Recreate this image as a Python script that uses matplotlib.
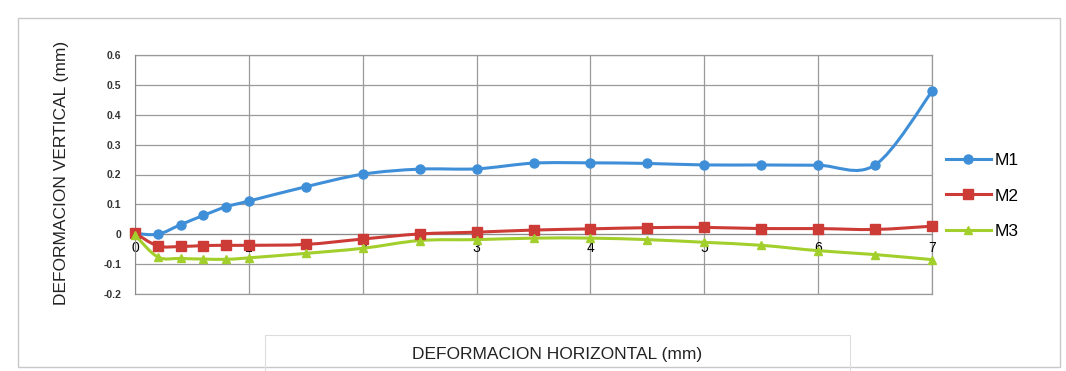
import matplotlib
matplotlib.use("Agg")
import matplotlib.pyplot as plt
import numpy as np
from matplotlib.path import Path
from matplotlib.patches import PathPatch, Rectangle
from matplotlib.lines import Line2D

x_vals = [0, 0.2, 0.4, 0.6, 0.8, 1.0, 1.5, 2.0, 2.5, 3.0, 3.5, 4.0, 4.5, 5.0, 5.5, 6.0, 6.5, 7.0]
m1 = [0.003, 0.0, 0.032, 0.063, 0.092, 0.111, 0.159, 0.201, 0.218, 0.219, 0.238, 0.239, 0.237, 0.232, 0.232, 0.231, 0.232, 0.478]
m2 = [0.004, -0.039, -0.041, -0.038, -0.037, -0.037, -0.034, -0.016, 0.001, 0.007, 0.014, 0.018, 0.022, 0.023, 0.019, 0.019, 0.016, 0.027]
m3 = [-0.003, -0.076, -0.081, -0.083, -0.084, -0.079, -0.064, -0.047, -0.021, -0.018, -0.013, -0.013, -0.018, -0.027, -0.037, -0.055, -0.068, -0.085]
series_names = ["M1", "M2", "M3"]
x_ticks = [0, 1, 2, 3, 4, 5, 6, 7]
y_ticks = [-0.2, -0.1, 0, 0.1, 0.2, 0.3, 0.4, 0.5, 0.6]
y_ticklabels = ["-0.2", "-0.1", "0", "0.1", "0.2", "0.3", "0.4", "0.5", "0.6"]

colors = ["#3f8fd8", "#cc3b36", "#a3cf2c"]
markers = ["o", "s", "^"]
msizes = [6.5, 6.5, 6]

plt.rcParams['font.family'] = ['Liberation Sans', 'DejaVu Sans']

fig = plt.figure(figsize=(10.66, 3.71), dpi=100)
ax = fig.add_axes([135/1066, 1-294/371, (932-135)/1066, (294-55)/371])


def smooth_path(xs, ys):
    xs = np.asarray(xs, float); ys = np.asarray(ys, float)
    pts = np.column_stack([xs, ys])
    n = len(pts)
    verts = [pts[0]]
    codes = [Path.MOVETO]
    for i in range(n - 1):
        p0 = pts[i - 1] if i > 0 else pts[i]
        p1 = pts[i]
        p2 = pts[i + 1]
        p3 = pts[i + 2] if i + 2 < n else pts[i + 1]
        c1 = p1 + (p2 - p0) / 6.0
        c2 = p2 - (p3 - p1) / 6.0
        verts += [c1, c2, p2]
        codes += [Path.CURVE4] * 3
    return Path(verts, codes)


handles = []
for ys, c, mk, ms, name in zip([m1, m2, m3], colors, markers, msizes, series_names):
    patch = PathPatch(smooth_path(x_vals, ys), fill=False, edgecolor=c, lw=2.2, zorder=3, clip_on=False)
    ax.add_patch(patch)
    ax.plot(x_vals, ys, linestyle='none', marker=mk, markersize=ms, color=c, zorder=4, clip_on=False)
    handles.append(Line2D([0], [0], color=c, lw=2.2, marker=mk, markersize=ms, label=name))

ax.set_xlim(0, 7)
ax.set_ylim(-0.2, 0.6)
ax.set_xticks(x_ticks)
ax.set_xticklabels([str(v) for v in x_ticks], fontsize=7.5, color="#333333", fontweight='bold')
ax.set_yticks(y_ticks)
ax.set_yticklabels(y_ticklabels, fontsize=7.5, color="#333333", fontweight='bold')
grid_kw = dict(color="#9a9a9a", lw=0.9)
ax.grid(True, **grid_kw)
ax.axhline(-0.2, clip_on=False, zorder=0.5, **grid_kw)
ax.axhline(0.6, clip_on=False, zorder=0.5, **grid_kw)
ax.axvline(7, clip_on=False, zorder=0.5, **grid_kw)
ax.set_axisbelow(True)
ax.tick_params(length=0, pad=5)
ax.tick_params(axis='y', pad=10)
for s in ["top", "right"]:
    ax.spines[s].set_visible(False)
ax.spines['bottom'].set_position(('data', 0))
ax.spines['bottom'].set_color("#8a8a8a")
ax.spines['left'].set_color("#8a8a8a")
ax.spines['bottom'].set_zorder(1)

fig.text(62/1066, 1-173/371, "DEFORMACION VERTICAL (mm)", rotation=90, ha='center', va='center',
         fontsize=12.5, color="#222222")
fig.text(557/1066, 1-355/371, "DEFORMACION HORIZONTAL (mm)", ha='center', va='center',
         fontsize=12.5, color="#222222")

fig.legend(handles=handles, loc='center left', bbox_to_anchor=(930/1066, 1-196/371), frameon=False,
           fontsize=12.5, labelspacing=1.15, handlelength=2.6, handletextpad=0.2)

fig.patches.append(Rectangle((18/1066, 1-367/371), 1042/1066, 349/371, transform=fig.transFigure,
                             fill=False, edgecolor="#c8c8c8", lw=1.0))
fig.patches.append(Rectangle((265/1066, 1-371/371), 585/1066, 36/371, transform=fig.transFigure,
                             fill=False, edgecolor="#dddddd", lw=0.8))

fig.savefig("out.png", dpi=100)
